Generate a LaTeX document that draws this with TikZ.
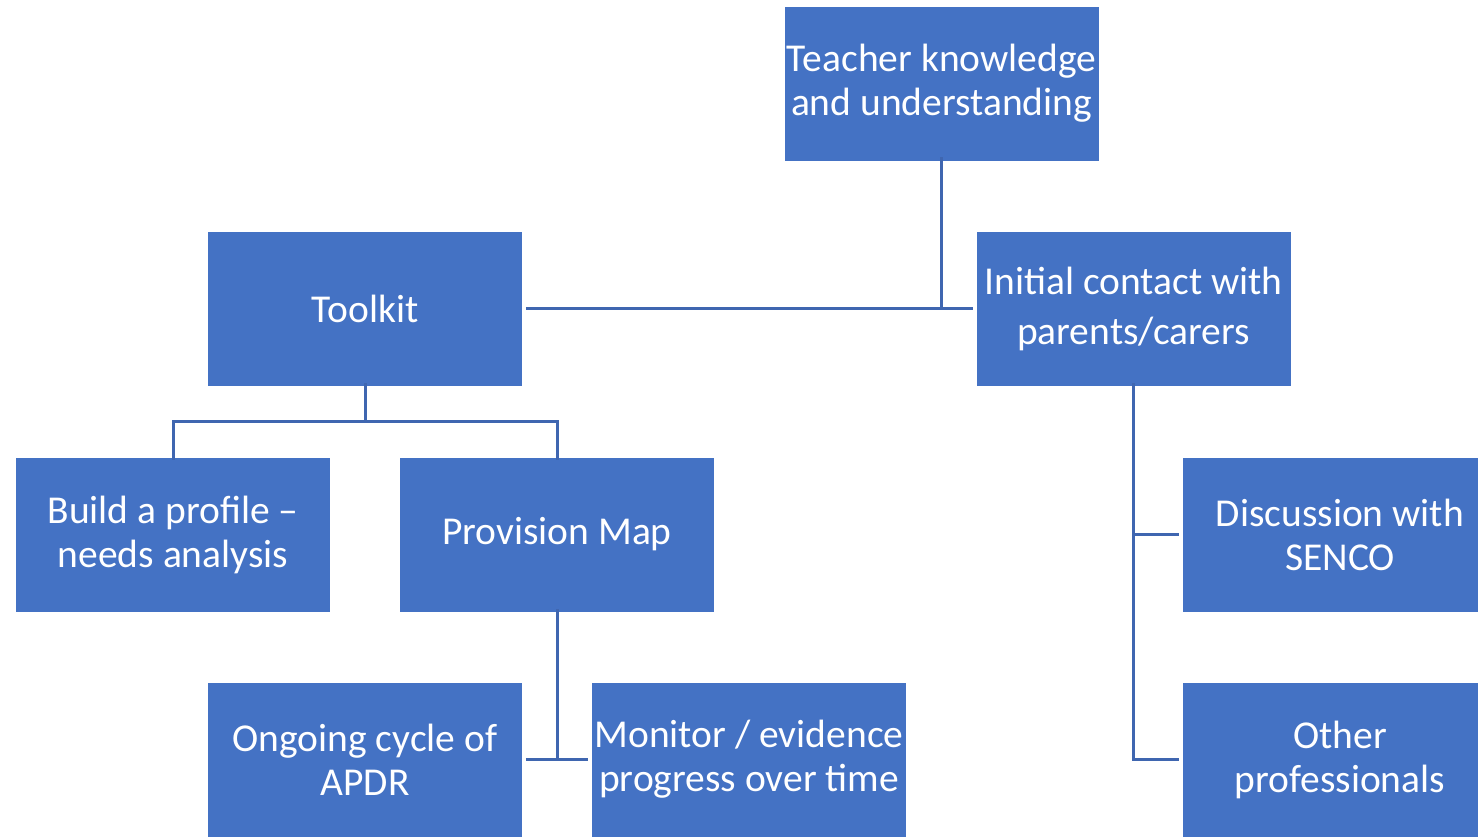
\documentclass[tikz,border=0pt]{standalone}
\usepackage{fontspec}
\setmainfont{Carlito}
\definecolor{boxblue}{RGB}{68,114,196}
\definecolor{lineblue}{RGB}{63,102,176}
\begin{document}
\begin{tikzpicture}[x=1pt,y=-1pt,
  box/.style={fill=boxblue,draw=white,line width=0.8pt,minimum width=315pt,minimum height=155pt,inner sep=0pt,
    align=center,text=white,font=\fontsize{39.5}{44}\selectfont},
  conn/.style={draw=lineblue,line width=3pt}]
\useasboundingbox (0,0) rectangle (1478,836);
\clip (0,0) rectangle (1478,836);
\node[box] (teacher) at (941.5,83.5) {Teacher knowledge\\and understanding};
\node[box] (toolkit) at (365,308.5) {Toolkit};
\node[box] (initial) at (1133.5,308.5) {Initial contact with\\[6pt]parents/carers};
\node[box] (profile) at (173,534.5) {Build a profile --\\needs analysis};
\node[box] (provision) at (557,534.5) {Provision Map};
\node[box] (senco) at (1340,534.5) {Discussion with\\SENCO};
\node[box] (ongoing) at (365,759.5) {Ongoing cycle of\\APDR};
\node[box] (monitor) at (749,759.5) {Monitor / evidence\\progress over time};
\node[box] (other) at (1340,759.5) {Other\\professionals};
% connectors
\coordinate (j1) at (teacher.south |- toolkit.east);
\draw[conn] ([yshift=4pt]teacher.south) -- (j1);
\draw[conn] ([xshift=3pt]toolkit.east) -- ([xshift=-3pt]initial.west);
\coordinate (j2) at (365,421);
\draw[conn] ([yshift=3pt]toolkit.south) -- (j2);
\draw[conn] ([yshift=-3pt]profile.north) -- (profile.north |- j2) -- (provision.north |- j2) -- ([yshift=-3pt]provision.north);
\coordinate (j3) at (provision.south |- monitor.west);
\draw[conn] ([yshift=3pt]provision.south) -- (j3);
\draw[conn] ([xshift=3pt]ongoing.east) -- ([xshift=-3pt]monitor.west);
\draw[conn] ([yshift=3pt]initial.south) -- (initial.south |- other.west) -- ([xshift=-3pt]other.west);
\draw[conn] (initial.south |- senco.west) -- ([xshift=-3pt]senco.west);
\end{tikzpicture}
\end{document}
